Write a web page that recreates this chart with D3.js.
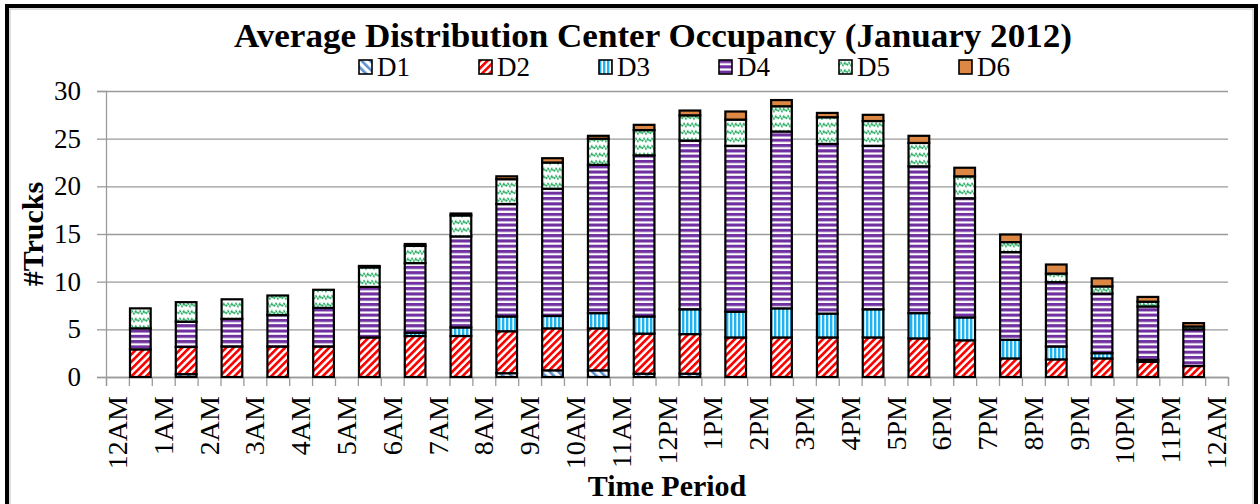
<!DOCTYPE html>
<html>
<head>
    <meta charset="utf-8">
    <script src="https://d3js.org/d3.v7.min.js"></script>
    <style>
        body { margin: 0; background: #fff; }
        text { font-family: "Liberation Serif", "Times New Roman", serif; }
    </style>
</head>
<body>
<div id="chart"></div>
<script>
    // data
    const hourLabels = ["12AM", "1AM", "2AM", "3AM", "4AM", "5AM", "6AM", "7AM", "8AM", "9AM", "10AM", "11AM",
        "12PM", "1PM", "2PM", "3PM", "4PM", "5PM", "6PM", "7PM", "8PM", "9PM", "10PM", "11PM", "12AM"];
    const seriesNames = ["D1", "D2", "D3", "D4", "D5", "D6"];
    const d1 = [0, 0.3, 0, 0, 0, 0, 0, 0, 0.4, 0.7, 0.7, 0.35, 0.35, 0, 0, 0, 0, 0, 0, 0, 0, 0, 0, 0];
    const d2 = [2.9, 2.85, 3.2, 3.2, 3.2, 4.15, 4.3, 4.3, 4.4, 4.4, 4.4, 4.2, 4.15, 4.15, 4.15, 4.15, 4.15, 4.05, 3.85, 1.95, 1.85, 1.95, 1.6, 1.15];
    const d3s = [0, 0, 0, 0, 0, 0, 0.35, 0.9, 1.55, 1.3, 1.6, 1.8, 2.6, 2.7, 3.05, 2.5, 2.95, 2.65, 2.4, 1.95, 1.35, 0.55, 0.2, 0];
    const d4 = [2.2, 2.65, 2.9, 3.3, 4.05, 5.3, 7.3, 9.55, 11.8, 13.35, 15.55, 16.9, 17.7, 17.4, 18.55, 17.8, 17.15, 15.4, 12.5, 9.2, 6.75, 6.25, 5.6, 3.85];
    const d5 = [2.1, 2.05, 2.05, 2.05, 1.9, 2.05, 1.8, 2.2, 2.6, 2.75, 2.75, 2.65, 2.65, 2.75, 2.65, 2.8, 2.6, 2.45, 2.3, 1.05, 0.9, 0.75, 0.5, 0.3];
    const d6 = [0, 0, 0, 0, 0, 0.15, 0.2, 0.2, 0.3, 0.45, 0.3, 0.55, 0.5, 0.85, 0.65, 0.45, 0.65, 0.75, 0.9, 0.8, 0.95, 0.85, 0.5, 0.35];
    const yTicks = [0, 5, 10, 15, 20, 25, 30];

    const seriesValues = [d1, d2, d3s, d4, d5, d6];
    const rows = d1.map((_, i) => {
        const r = {bar: i};
        seriesNames.forEach((s, k) => r[s] = seriesValues[k][i]);
        return r;
    });

    const W = 1260, H = 504;
    const margin = {top: 91, right: 32, bottom: 127, left: 106},
        width = W - margin.left - margin.right,
        height = H - margin.top - margin.bottom;

    const svg = d3.select("#chart").append("svg")
        .attr("width", W).attr("height", H);

    // patterns
    const defs = svg.append("defs");
    function stripes(id, color, size, thick, angle) {
        const p = defs.append("pattern").attr("id", id)
            .attr("patternUnits", "userSpaceOnUse")
            .attr("width", size).attr("height", size)
            .attr("patternTransform", "rotate(" + angle + ")");
        p.append("rect").attr("width", size).attr("height", size).attr("fill", "#fff");
        p.append("rect").attr("width", thick).attr("height", size).attr("fill", color);
    }
    stripes("pD1", "#5b8fd0", 6, 2.6, -45);
    stripes("pD2", "#ff0000", 5.2, 2.7, 45);
    stripes("pD3", "#1fb2ef", 4, 2.4, 0);
    stripes("pD4", "#7030a0", 5.3, 3.1, 90);
    const pz = defs.append("pattern").attr("id", "pD5")
        .attr("patternUnits", "userSpaceOnUse").attr("width", 8).attr("height", 7.5);
    pz.append("rect").attr("width", 8).attr("height", 7.5).attr("fill", "#fff");
    pz.append("path").attr("d", "M0,5.5 L2,2.5 L4,5.5 L6,2.5 L8,5.5")
        .attr("fill", "none").attr("stroke", "#1aa85a").attr("stroke-width", 1.5)
        .attr("stroke-dasharray", "2.2,0.7");
    const fills = {D1: "url(#pD1)", D2: "url(#pD2)", D3: "url(#pD3)", D4: "url(#pD4)", D5: "url(#pD5)", D6: "#dc8743"};

    // outer frame
    svg.append("rect").attr("x", 7).attr("y", 6).attr("width", 1249).attr("height", 505)
        .attr("fill", "none").attr("stroke", "#000").attr("stroke-width", 4);
    svg.append("rect").attr("x", 10).attr("y", 9).attr("width", 1243).attr("height", 505)
        .attr("fill", "none").attr("stroke", "#bbb").attr("stroke-width", 1);

    const g = svg.append("g").attr("transform", "translate(" + margin.left + "," + margin.top + ")");

    // 49 slots: hour labels on even slots, bars on odd slots
    const slots = d3.range(hourLabels.length + d1.length);
    const x = d3.scaleBand().domain(slots).range([0, width]).padding(0);
    const xEdge = d3.scaleLinear().domain([0, slots.length]).range([0, width]);
    const y = d3.scaleLinear().domain([0, 30]).range([height, 0]);

    // gridlines
    g.append("g")
        .call(d3.axisLeft(y).tickValues(yTicks).tickSize(-width).tickFormat(""))
        .call(a => a.select(".domain").remove())
        .call(a => a.selectAll("line").attr("stroke", "#9a9a9a").attr("stroke-width", 1.3));

    // y axis
    g.append("g")
        .call(d3.axisLeft(y).tickValues(yTicks).tickSize(9).tickPadding(16))
        .call(a => a.select(".domain").attr("stroke", "#9a9a9a").attr("stroke-width", 1.3))
        .call(a => a.selectAll("line").attr("stroke", "#9a9a9a").attr("stroke-width", 1.3))
        .call(a => a.selectAll("text").attr("font-size", 27).attr("fill", "#000")
            .style("font-family", "'Liberation Serif', serif"));

    // x axis ticks at slot edges
    g.append("g").attr("transform", "translate(0," + height + ")")
        .call(d3.axisBottom(xEdge).tickValues(d3.range(slots.length + 1)).tickSize(9).tickFormat(""))
        .call(a => a.select(".domain").attr("stroke", "#9a9a9a").attr("stroke-width", 1.3))
        .call(a => a.selectAll("line").attr("stroke", "#9a9a9a").attr("stroke-width", 1.3));

    // x hour labels
    g.append("g").attr("transform", "translate(0," + height + ")")
        .call(d3.axisBottom(x).tickValues(d3.range(hourLabels.length).map(i => i * 2))
            .tickSize(0).tickFormat(i => hourLabels[i / 2]))
        .call(a => a.select(".domain").remove())
        .call(a => a.selectAll("text")
            .attr("font-size", 28).attr("fill", "#000")
            .style("font-family", "'Liberation Serif', serif")
            .attr("text-anchor", "end")
            .attr("transform", "rotate(-90)")
            .attr("x", -19).attr("y", 0).attr("dy", "0.34em"));

    // stacked bars
    const stack = d3.stack().keys(seriesNames)(rows);
    g.append("g").selectAll("g").data(stack).join("g")
        .attr("fill", s => fills[s.key])
        .selectAll("rect")
        .data(s => s.filter(d => d[1] - d[0] > 0))
        .join("rect")
        .attr("x", d => x(d.data.bar * 2 + 1) + 1.1)
        .attr("width", x.bandwidth() - 2.2)
        .attr("y", d => y(d[1]))
        .attr("height", d => y(d[0]) - y(d[1]))
        .attr("stroke", "#000").attr("stroke-width", 2.2);

    // title
    svg.append("text").attr("x", 653).attr("y", 47).attr("text-anchor", "middle")
        .attr("font-size", 33).attr("font-weight", "bold")
        .attr("textLength", 838).attr("lengthAdjust", "spacingAndGlyphs")
        .text("Average Distribution Center Occupancy (January 2012)");

    // legend
    const leg = svg.append("g").selectAll("g").data(seriesNames).join("g")
        .attr("transform", (d, i) => "translate(" + (359 + i * 120) + ",60)");
    leg.append("rect").attr("width", 13).attr("height", 14)
        .attr("fill", d => fills[d]).attr("stroke", "#000").attr("stroke-width", 1.6);
    leg.append("text").attr("x", 18).attr("y", 16).attr("font-size", 27).text(d => d);

    // axis titles
    svg.append("text").attr("transform", "translate(43," + (margin.top + height / 2) + ") rotate(-90)")
        .attr("text-anchor", "middle").attr("font-size", 30).attr("font-weight", "bold").text("#Trucks");
    svg.append("text").attr("x", margin.left + width / 2).attr("y", 496)
        .attr("text-anchor", "middle").attr("font-size", 30).attr("font-weight", "bold").text("Time Period");
</script>
</body>
</html>
